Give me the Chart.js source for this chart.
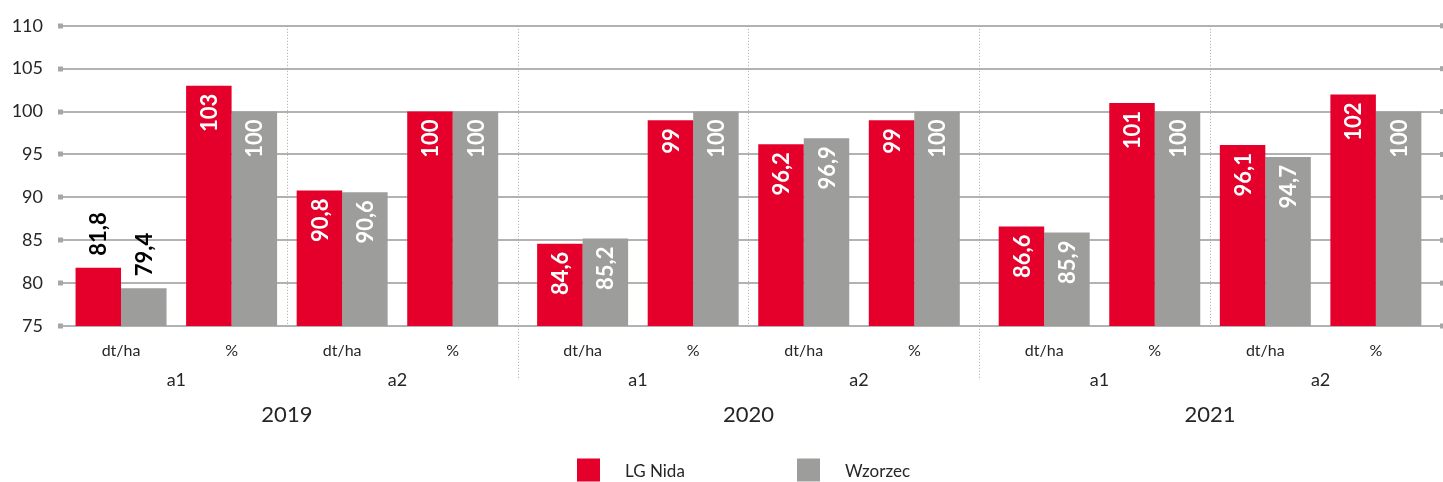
<!DOCTYPE html>
<html><head><meta charset="utf-8">
<script src="https://cdn.jsdelivr.net/npm/chart.js@4.4.0/dist/chart.umd.min.js"></script>
<style>html,body{margin:0;padding:0;background:#fff;overflow:hidden}#wrap{width:1443px;height:482px;position:relative}</style>
</head><body><div id="wrap"><canvas id="c" width="1443" height="482"></canvas></div>
<script>
const categories = ['dt/ha','%','dt/ha','%','dt/ha','%','dt/ha','%','dt/ha','%','dt/ha','%'];
const subgroups = ['a1','a2','a1','a2','a1','a2'];
const years = ['2019','2020','2021'];
const lgNida = [81.8,103,90.8,100,84.6,99,96.2,99,86.6,101,96.1,102];
const wzorzec = [79.4,100,90.6,100,85.2,100,96.9,100,85.9,100,94.7,100];
const yTicks = [75,80,85,90,95,100,105,110];
const seriesNames = ['LG Nida','Wzorzec'];
const seriesValues = [lgNida, wzorzec];
const seriesColors = ['#E4002B','#9D9D9C'];

const FONT = 'Lato, "Open Sans", sans-serif';
const TEXT = '#262626';
const GRID = '#B2B2B2';
const YEAR_GAP = 0.175;              // extra space between year blocks (category units)
const perYear = categories.length / years.length;
const perSub = categories.length / subgroups.length;
const catPos = categories.map((c, i) => i + Math.floor(i / perYear) * YEAR_GAP);

Chart.defaults.font.family = FONT;

const fmt = v => String(v).replace('.', ',');

const deco = {
  id: 'deco',
  beforeDatasetsDraw(chart) {
    const {ctx, chartArea: ca, scales: {x}} = chart;
    ctx.save();
    ctx.strokeStyle = '#A8A8A8';
    ctx.lineWidth = 1;
    ctx.setLineDash([1, 2]);
    for (let i = perSub; i < categories.length; i += perSub) {
      const px = Math.round((x.getPixelForValue(catPos[i - 1]) + x.getPixelForValue(catPos[i])) / 2) + 0.5;
      const bottom = (i % perYear === 0) ? 380 : ca.bottom;
      ctx.beginPath(); ctx.moveTo(px, ca.top); ctx.lineTo(px, bottom); ctx.stroke();
    }
    ctx.restore();
  },
  afterDatasetsDraw(chart) {
    const {ctx, chartArea: ca, scales: {x, y}} = chart;
    ctx.save();
    // right side tick squares
    ctx.fillStyle = '#A6A6A6';
    yTicks.forEach(v => { const py = y.getPixelForValue(v); ctx.fillRect(ca.right, py - 2.5, 5, 5); });
    // data labels
    ctx.font = 'bold 22px ' + FONT;
    ctx.textBaseline = 'middle';
    const basePx = y.getPixelForValue(y.min);
    chart.data.datasets.forEach((ds, k) => {
      const meta = chart.getDatasetMeta(k);
      meta.data.forEach((bar, i) => {
        const txt = fmt(seriesValues[k][i]);
        const len = ctx.measureText(txt).width;
        const h = basePx - bar.y;
        ctx.save();
        ctx.translate(bar.x, bar.y);
        ctx.rotate(-Math.PI / 2);
        if (h < len + 16) {
          ctx.fillStyle = '#000';
          ctx.textAlign = 'left';
          ctx.fillText(txt, 12, 1);
        } else {
          ctx.fillStyle = '#FFFFFF';
          ctx.textAlign = 'right';
          ctx.fillText(txt, -8, 1);
        }
        ctx.restore();
      });
    });
    // second and third level category labels
    ctx.fillStyle = TEXT;
    ctx.textAlign = 'center';
    ctx.textBaseline = 'alphabetic';
    ctx.font = '18px ' + FONT;
    subgroups.forEach((s, j) => {
      const a = x.getPixelForValue(catPos[j * perSub]);
      const b = x.getPixelForValue(catPos[j * perSub + perSub - 1]);
      ctx.fillText(s, (a + b) / 2, 386);
    });
    ctx.font = '22px ' + FONT;
    years.forEach((s, j) => {
      const a = x.getPixelForValue(catPos[j * perYear]);
      const b = x.getPixelForValue(catPos[j * perYear + perYear - 1]);
      ctx.fillText(s, (a + b) / 2, 422);
    });
    // legend
    ctx.font = '17px ' + FONT;
    ctx.textAlign = 'left';
    const legX = [577, 797];
    seriesNames.forEach((n, k) => {
      ctx.fillStyle = seriesColors[k];
      ctx.fillRect(legX[k], 458.5, 23, 23);
      ctx.fillStyle = TEXT;
      ctx.fillText(n, legX[k] + 48, 477);
    });
    ctx.restore();
  }
};

new Chart(document.getElementById('c'), {
  type: 'bar',
  data: {
    datasets: seriesNames.map((n, k) => ({
      label: n,
      data: seriesValues[k].map((v, i) => ({x: catPos[i], y: v})),
      backgroundColor: seriesColors[k],
      borderWidth: 0,
      categoryPercentage: 0.823,
      barPercentage: 1
    }))
  },
  options: {
    responsive: false,
    animation: false,
    layout: {padding: {top: 25, right: 3, left: 0, bottom: 0}},
    plugins: {legend: {display: false}, tooltip: {enabled: false}},
    scales: {
      x: {
        type: 'linear',
        offset: false,
        min: -0.525,
        max: catPos[catPos.length - 1] + 0.58,
        afterBuildTicks: s => { s.ticks = catPos.map(v => ({value: v})); },
        afterFit: s => { s.height = 156; },
        ticks: {callback: (v, i) => categories[i], autoSkip: false, maxRotation: 0, padding: 15, font: {size: 16}, color: TEXT},
        grid: {drawOnChartArea: false, drawTicks: false, offset: false},
        border: {color: GRID, width: 2}
      },
      y: {
        min: 75, max: 110,
        afterBuildTicks: s => { s.ticks = yTicks.map(v => ({value: v})); },
        afterFit: s => { s.width = 63; },
        ticks: {padding: 15, font: {size: 18}, color: TEXT},
        grid: {color: GRID, lineWidth: 2, tickLength: 5, tickWidth: 5, tickColor: '#A6A6A6'},
        border: {display: false}
      }
    }
  },
  plugins: [deco]
});
</script>
</body></html>
